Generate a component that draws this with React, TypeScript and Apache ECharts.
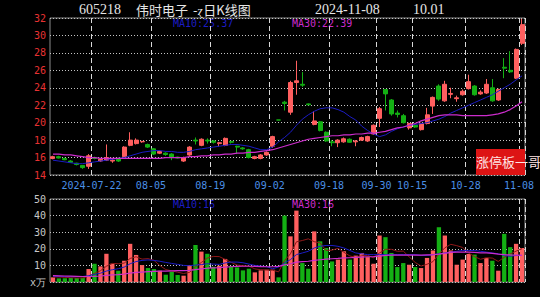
import React, { useEffect, useRef } from "react";
import * as echarts from "echarts";

const dates = [
  "2024-07-11","2024-07-12","2024-07-15","2024-07-16","2024-07-17","2024-07-18","2024-07-19","2024-07-22","2024-07-23","2024-07-24",
  "2024-07-25","2024-07-26","2024-07-29","2024-07-30","2024-07-31","2024-08-01","2024-08-02","2024-08-05","2024-08-06","2024-08-07",
  "2024-08-08","2024-08-09","2024-08-12","2024-08-13","2024-08-14","2024-08-15","2024-08-16","2024-08-19","2024-08-20","2024-08-21",
  "2024-08-22","2024-08-23","2024-08-26","2024-08-27","2024-08-28","2024-08-29","2024-08-30","2024-09-02","2024-09-03","2024-09-04",
  "2024-09-05","2024-09-06","2024-09-09","2024-09-10","2024-09-11","2024-09-12","2024-09-13","2024-09-18","2024-09-19","2024-09-20",
  "2024-09-23","2024-09-24","2024-09-25","2024-09-26","2024-09-27","2024-09-30","2024-10-08","2024-10-09","2024-10-10","2024-10-11",
  "2024-10-14","2024-10-15","2024-10-16","2024-10-17","2024-10-18","2024-10-21","2024-10-22","2024-10-23","2024-10-24","2024-10-25",
  "2024-10-28","2024-10-29","2024-10-30","2024-10-31","2024-11-01","2024-11-04","2024-11-05","2024-11-06","2024-11-07","2024-11-08",
];

const labelIndices = [7, 17, 27, 37, 47, 55, 61, 70, 79];

// [open, close, low, high]
const candles = [
  [15.9, 16.1, 15.8, 16.2], [16.1, 15.95, 15.9, 16.2], [15.9, 15.75, 15.7, 16.0], [15.6, 15.45, 15.4, 15.7], [15.35, 15.2, 15.1, 15.4],
  [15.1, 14.85, 14.7, 15.1], [15.0, 16.2, 14.7, 16.4], [16.0, 15.9, 15.8, 16.1], [15.6, 15.8, 15.5, 15.9], [15.7, 16.0, 15.6, 17.5],
  [15.6, 15.7, 15.4, 15.9], [15.9, 15.6, 15.5, 16.0], [16.1, 17.2, 16.0, 17.3], [17.4, 18.0, 17.3, 18.9], [17.6, 18.0, 17.5, 18.2],
  [17.8, 17.85, 17.7, 17.9], [17.5, 17.2, 17.1, 17.6], [17.0, 16.4, 16.3, 17.1], [16.5, 16.7, 16.4, 16.8], [16.5, 16.35, 16.2, 16.6],
  [16.4, 16.0, 15.7, 16.5], [16.05, 15.95, 15.9, 16.1], [15.6, 16.0, 15.5, 16.1], [16.3, 17.2, 16.2, 17.3], [18.0, 17.9, 17.5, 18.3],
  [17.4, 18.1, 17.3, 18.2], [18.0, 17.9, 17.6, 18.2], [17.9, 17.75, 17.6, 18.0], [17.6, 17.7, 17.3, 17.8], [17.4, 18.2, 17.3, 18.3],
  [17.85, 17.75, 17.6, 17.9], [17.3, 17.2, 16.4, 17.35], [17.1, 17.0, 16.9, 17.2], [16.9, 16.0, 15.9, 17.0], [15.9, 16.1, 15.8, 16.2],
  [15.9, 16.3, 15.8, 16.4], [16.3, 16.6, 16.2, 16.7], [17.3, 18.4, 17.1, 18.5], [20.31, 20.3, 20.3, 20.31], [22.35, 22.2, 21.4, 22.5],
  [21.2, 24.6, 20.9, 24.8], [24.6, 24.8, 23.2, 27.1], [24.4, 24.3, 24.1, 25.8], [22.15, 22.05, 22.0, 22.2], [19.8, 20.2, 19.7, 21.3],
  [20.1, 19.1, 19.0, 20.2], [18.9, 17.9, 17.8, 19.0], [17.8, 17.7, 17.3, 18.0], [17.7, 18.0, 17.2, 18.1], [17.8, 18.15, 17.7, 18.3],
  [18.1, 17.75, 17.7, 18.2], [17.8, 17.9, 17.3, 18.0], [18.0, 18.3, 17.9, 18.4], [17.9, 18.4, 17.8, 18.5], [18.7, 19.7, 18.6, 19.8],
  [20.5, 21.6, 19.5, 21.8], [23.8, 23.3, 21.4, 23.8], [22.6, 21.0, 20.8, 22.7], [21.1, 20.95, 20.6, 21.4], [20.8, 20.0, 19.9, 21.0],
  [19.4, 19.9, 19.2, 20.0], [19.7, 19.5, 19.4, 19.9], [19.2, 19.9, 19.1, 20.0], [19.9, 20.9, 19.8, 21.7], [21.9, 22.9, 21.0, 23.0],
  [24.2, 22.7, 22.5, 24.4], [22.5, 24.4, 22.4, 24.8], [23.25, 23.35, 22.8, 24.0], [22.75, 22.85, 22.4, 23.1], [23.2, 23.6, 23.1, 23.8],
  [23.9, 24.7, 23.8, 25.5], [24.2, 23.2, 23.1, 24.3], [23.3, 23.5, 23.2, 23.7], [23.4, 24.4, 23.3, 25.0], [24.0, 22.5, 22.4, 25.0],
  [22.6, 23.8, 22.5, 23.9], [26.35, 26.25, 25.1, 27.4], [26.0, 25.82, 25.7, 28.2], [25.1, 28.4, 25.0, 28.5], [29.1, 31.24, 28.9, 31.9],
];

const ma10 = [
  15.7, 15.6, 15.5, 15.4, 15.3, 15.3, 15.4, 15.5, 15.6, 15.7,
  15.8, 15.9, 16.0, 16.2, 16.4, 16.6, 16.7, 16.8, 16.8, 16.7,
  16.7, 16.6, 16.6, 16.7, 16.9, 17.0, 17.1, 17.2, 17.3, 17.4,
  17.5, 17.5, 17.4, 17.3, 17.1, 16.9, 16.9, 17.2, 17.8, 18.3,
  18.9, 19.7, 20.4, 20.9, 21.3, 21.6, 21.7, 21.7, 21.5, 21.2,
  20.7, 20.3, 19.6, 19.1, 18.7, 18.4, 18.6, 19.0, 19.3, 19.5,
  19.7, 19.8, 19.9, 20.0, 20.2, 20.4, 20.7, 21.1, 21.4, 21.7,
  22.0, 22.3, 22.6, 22.9, 23.2, 23.6, 24.0, 24.4, 24.9, 25.37,
];

const ma30 = [
  16.4, 16.4, 16.3, 16.3, 16.2, 16.1, 16.0, 16.0, 15.9, 15.9,
  15.9, 15.9, 15.9, 15.9, 15.9, 15.9, 15.9, 15.9, 15.9, 16.0,
  16.0, 16.0, 16.0, 16.1, 16.1, 16.2, 16.2, 16.3, 16.3, 16.4,
  16.4, 16.5, 16.5, 16.6, 16.6, 16.7, 16.8, 16.9, 17.1, 17.3,
  17.5, 17.7, 17.9, 18.1, 18.2, 18.3, 18.4, 18.5, 18.5, 18.6,
  18.6, 18.7, 18.7, 18.8, 18.8, 18.9, 19.0, 19.2, 19.4, 19.5,
  19.7, 19.9, 20.2, 20.4, 20.6, 20.8, 20.9, 20.9, 20.9, 20.8,
  20.8, 20.8, 20.8, 20.8, 20.9, 21.0, 21.2, 21.5, 21.9, 22.39,
];

// volume, in units of 10,000 (x万)
const volumes = [
  2.8, 2.2, 2.2, 2.4, 2.4, 2.6, 7.8, 11.0, 9.4, 17.0,
  11.0, 6.8, 12.8, 23.0, 16.3, 10.2, 8.4, 7.8, 6.8, 4.4,
  6.2, 4.2, 3.8, 10.2, 22.3, 18.3, 17.0, 9.2, 9.8, 13.9,
  9.4, 8.8, 7.0, 8.0, 5.8, 7.0, 7.4, 7.4, 2.8, 40.0,
  27.5, 43.0, 11.4, 8.0, 30.5, 24.5, 20.5, 12.4, 13.5, 18.5,
  13.5, 15.9, 17.5, 15.0, 11.0, 28.0, 27.0, 17.5, 9.0, 11.4,
  10.4, 9.0, 8.4, 14.5, 19.0, 33.0, 28.0, 19.0, 10.4, 13.5,
  16.9, 16.5, 11.4, 14.5, 12.8, 6.8, 29.0, 21.0, 23.0, 20.5,
];

const volMa5 = [
  3.0, 3.0, 2.8, 2.6, 2.4, 2.4, 3.5, 5.2, 6.8, 9.5,
  11.2, 11.0, 11.4, 14.2, 15.2, 13.8, 14.1, 13.1, 9.9, 7.5,
  6.7, 5.9, 5.1, 5.8, 9.3, 11.8, 14.4, 15.4, 15.3, 13.6,
  11.9, 10.2, 9.8, 9.6, 7.9, 7.4, 7.2, 7.1, 6.1, 12.9,
  17.0, 24.2, 25.0, 26.0, 24.3, 23.5, 19.0, 19.2, 20.3, 17.9,
  15.7, 14.8, 15.8, 16.1, 14.6, 17.5, 19.7, 19.7, 18.5, 18.6,
  15.1, 11.8, 9.6, 10.7, 12.3, 16.8, 20.6, 22.7, 21.9, 20.8,
  17.4, 15.3, 13.7, 14.6, 14.4, 12.4, 14.9, 16.8, 18.6, 20.1,
];

const volMa10 = [
  3.5, 3.4, 3.3, 3.2, 3.2, 3.3, 3.8, 4.6, 5.3, 6.6,
  7.4, 8.0, 9.0, 11.0, 12.3, 13.0, 13.3, 13.0, 12.5, 11.8,
  11.2, 10.6, 10.0, 9.8, 10.2, 10.5, 11.0, 10.8, 10.6, 11.5,
  12.0, 12.0, 11.6, 10.8, 10.0, 9.6, 9.2, 8.0, 9.0, 11.5,
  13.5, 16.5, 17.5, 18.5, 20.5, 21.5, 22.0, 22.0, 21.5, 20.5,
  19.0, 17.5, 17.0, 16.5, 16.5, 16.5, 16.5, 16.5, 16.5, 16.5,
  16.5, 16.5, 16.0, 16.0, 16.5, 17.0, 17.5, 18.0, 18.5, 19.0,
  19.0, 19.0, 18.5, 18.0, 17.5, 17.0, 16.0, 15.5, 16.0, 16.0,
];

const volMa30 = [
  3.8, 3.7, 3.6, 3.5, 3.4, 3.3, 3.3, 3.4, 3.6, 4.0,
  4.3, 4.5, 4.8, 5.4, 5.8, 6.0, 6.2, 6.4, 6.5, 6.6,
  6.7, 6.8, 6.9, 7.0, 7.5, 7.9, 8.3, 8.5, 8.7, 9.0,
  9.2, 9.4, 9.5, 9.5, 9.4, 9.3, 9.2, 9.2, 9.4, 10.3,
  11.0, 12.0, 12.3, 12.5, 13.0, 13.4, 13.8, 14.0, 14.2, 14.5,
  14.6, 14.8, 15.0, 15.2, 15.3, 15.6, 16.0, 16.2, 16.2, 16.2,
  16.2, 16.2, 16.2, 16.3, 16.4, 16.8, 17.3, 17.8, 18.0, 18.0,
  18.0, 17.8, 17.6, 17.5, 17.2, 16.8, 16.5, 16.3, 16.2, 16.0,
];

const priceTicks = { min: 14, max: 32, interval: 2 };
const volTicks = { min: 0, max: 50, interval: 10 };

const UP = "#ff5f5f";
const DOWN = "#14b014";
const MONO = "DejaVu Sans Mono, monospace";

export default function App() {
  const ref = useRef<HTMLDivElement>(null);

  useEffect(() => {
    if (!ref.current) return;
    const chart = echarts.init(ref.current, null, { renderer: "svg" });

    const showIdx = (i: number) => labelIndices.includes(i);
    const volData = volumes.map((v, i) => ({
      value: v,
      itemStyle: { color: candles[i][1] >= candles[i][0] ? UP : DOWN },
    }));

    const splitX = {
      show: true,
      interval: (i: number) => showIdx(i),
      lineStyle: { color: "#d8d8d8", type: [5, 3] as any, width: 1 },
    };
    const splitY = {
      show: true,
      lineStyle: { color: "#c4c4c4", type: [1, 2] as any, width: 1 },
    };

    chart.setOption({
      animation: false,
      backgroundColor: "#000000",
      grid: [
        { left: 50, right: 15, top: 18, height: 157, show: true, borderColor: "#8c8c8c", borderWidth: 1 },
        { left: 50, right: 15, top: 199, height: 83, show: true, borderColor: "#8c8c8c", borderWidth: 1 },
      ],
      xAxis: [
        {
          type: "category",
          gridIndex: 0,
          data: dates,
          boundaryGap: true,
          axisLine: { show: false },
          axisTick: { show: false },
          axisLabel: {
            interval: (i: number) => showIdx(i),
            formatter: (v: string, i: number) => (i === labelIndices[0] ? v : v.slice(5)),
            color: "#4a8fe6",
            fontSize: 10,
            fontFamily: MONO,
            margin: 5,
            padding: [0, 6, 0, 0],
          },
          splitLine: splitX,
        },
        {
          type: "category",
          gridIndex: 1,
          data: dates,
          boundaryGap: true,
          axisLine: { show: false },
          axisTick: { show: false },
          axisLabel: { show: false, interval: (i: number) => showIdx(i) },
          splitLine: splitX,
        },
      ],
      yAxis: [
        {
          type: "value",
          gridIndex: 0,
          min: priceTicks.min,
          max: priceTicks.max,
          interval: priceTicks.interval,
          axisLine: { show: false },
          axisTick: { show: false },
          axisLabel: { color: "#e83232", fontSize: 10, fontFamily: MONO, margin: 4 },
          splitLine: splitY,
        },
        {
          type: "value",
          gridIndex: 1,
          min: volTicks.min,
          max: volTicks.max,
          interval: volTicks.interval,
          axisLine: { show: false },
          axisTick: { show: false },
          axisLabel: {
            color: "#c8c8c8",
            fontSize: 10,
            fontFamily: MONO,
            margin: 4,
            formatter: (v: number) => (v === 0 ? "x万" : String(v)),
          },
          splitLine: splitY,
        },
      ],
      series: [
        {
          type: "candlestick",
          xAxisIndex: 0,
          yAxisIndex: 0,
          data: candles,
          barWidth: 4.5,
          itemStyle: { color: UP, color0: DOWN, borderColor: UP, borderColor0: DOWN, borderWidth: 1 },
          z: 2,
        },
        {
          type: "line",
          xAxisIndex: 0,
          yAxisIndex: 0,
          data: ma10,
          symbol: "none",
          lineStyle: { color: "#1c1cc4", width: 1 },
          z: 3,
        },
        {
          type: "line",
          xAxisIndex: 0,
          yAxisIndex: 0,
          data: ma30,
          symbol: "none",
          lineStyle: { color: "#cc2ccc", width: 1.2 },
          z: 3,
        },
        {
          type: "bar",
          xAxisIndex: 1,
          yAxisIndex: 1,
          data: volData,
          barWidth: 4.3,
          z: 2,
        },
        {
          type: "line",
          xAxisIndex: 1,
          yAxisIndex: 1,
          data: volMa5,
          symbol: "none",
          lineStyle: { color: "#901818", width: 1 },
          z: 3,
        },
        {
          type: "line",
          xAxisIndex: 1,
          yAxisIndex: 1,
          data: volMa10,
          symbol: "none",
          lineStyle: { color: "#1c1cc4", width: 1 },
          z: 3,
        },
        {
          type: "line",
          xAxisIndex: 1,
          yAxisIndex: 1,
          data: volMa30,
          symbol: "none",
          lineStyle: { color: "#cc2ccc", width: 1.2 },
          z: 3,
        },
      ],
      graphic: [
        { type: "text", left: 79, top: 2, style: { text: "605218", fill: "#e6e6e6", font: "14px 'Liberation Serif', serif" } },
        { type: "text", left: 136, top: 3, style: { text: "伟时电子", fill: "#e6e6e6", font: "13px 'Noto Sans CJK SC'" } },
        { type: "text", left: 193, top: 3, style: { text: "-ɀ日K线图", fill: "#e6e6e6", font: "13px 'Noto Sans CJK SC'" } },
        { type: "text", left: 315, top: 2, style: { text: "2024-11-08", fill: "#e6e6e6", font: "14px 'Liberation Serif', serif" } },
        { type: "text", left: 413, top: 2, style: { text: "10.01", fill: "#e6e6e6", font: "14px 'Liberation Serif', serif" } },
        { type: "text", left: 173, top: 18, style: { text: "MA10:25.37", fill: "#1c1cc4", font: `10px ${MONO}` } },
        { type: "text", left: 292, top: 18, style: { text: "MA30:22.39", fill: "#cc2ccc", font: `10px ${MONO}` } },
        { type: "text", left: 173, top: 199, style: { text: "MA10:16", fill: "#1c1cc4", font: `10px ${MONO}` } },
        { type: "text", left: 292, top: 199, style: { text: "MA30:16", fill: "#cc2ccc", font: `10px ${MONO}` } },
        { type: "rect", left: 476, top: 149, shape: { width: 49, height: 26 }, style: { fill: "#dd1414" }, z: 10 },
        { type: "text", left: 476, top: 155, style: { text: "涨停板一哥", fill: "#ffe4e4", font: "13px 'Noto Sans CJK SC'" }, z: 11 },
      ],
    });

    return () => chart.dispose();
  }, []);

  return (
    <div
      ref={ref}
      style={{ position: "fixed", left: 0, top: 0, width: 540, height: 297, background: "#000" }}
    />
  );
}
